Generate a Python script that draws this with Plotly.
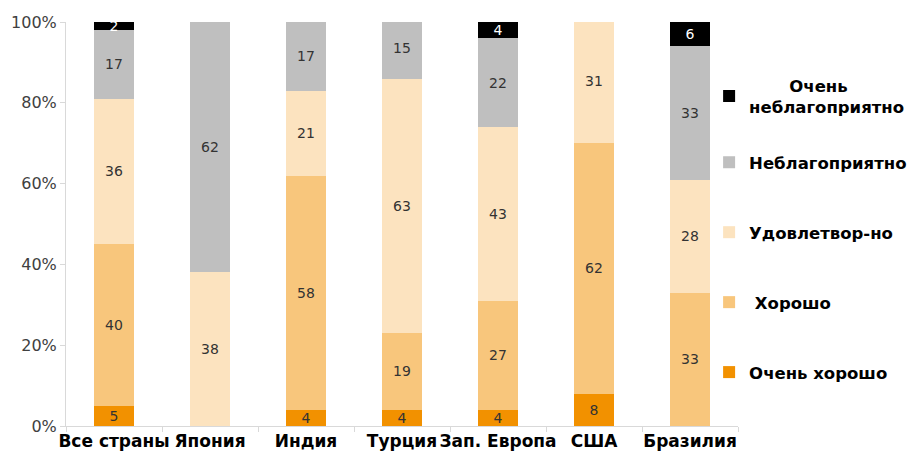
import plotly.graph_objects as go

categories = ["Все страны", "Япония", "Индия", "Турция", "Зап. Европа", "США", "Бразилия"]
very_good = [5, None, 4, 4, 4, 8, None]
good = [40, None, 58, 19, 27, 62, 33]
satisfactory = [36, 38, 21, 63, 43, 31, 28]
unfavorable = [17, 62, 17, 15, 22, None, 33]
very_unfavorable = [2, None, None, None, 4, None, 6]

series = [
    ("Очень хорошо", very_good, "#F29100", "#333333", "legend"),
    ("\u00a0Хорошо", good, "#F8C67C", "#333333", "legend"),
    ("Удовлетвор-но", satisfactory, "#FCE3BF", "#333333", "legend"),
    ("Неблагоприятно", unfavorable, "#BFBFBF", "#333333", "legend"),
    ("\u00a0" * 7 + "Очень<br>неблагоприятно", very_unfavorable, "#000000", "#FFFFFF", "legend2"),
]

FONT = "DejaVu Sans"
fig = go.Figure()
for i, (name, vals, color, tcolor, leg) in enumerate(series):
    label = "<b>" + name.replace("<br>", "</b><br><b>") + "</b>"
    fig.add_trace(go.Bar(
        x=categories, y=vals, name=label,
        marker=dict(color=color, line=dict(width=0)),
        text=[("" if v is None else str(v)) for v in vals],
        textposition="inside", insidetextanchor="middle", textangle=0,
        textfont=dict(size=14, color=tcolor, family=FONT),
        legendgroup=f"g{i}", legendrank=1000 - i, legend=leg,
    ))

legend_common = dict(
    traceorder="grouped", tracegroupgap=45.5, xanchor="left", yanchor="top",
    font=dict(size=16.5, color="#000000", family=FONT),
    bgcolor="rgba(0,0,0,0)", itemwidth=30,
)

fig.update_layout(
    barmode="stack",
    bargap=0.59,
    width=917, height=455,
    margin=dict(l=58, r=187, t=14, b=37, autoexpand=False),
    plot_bgcolor="white", paper_bgcolor="white",
    font=dict(family=FONT, color="#333333"),
    uniformtext=dict(minsize=14, mode="show"),
    showlegend=True,
    legend=dict(x=0.957, y=0.6955, **legend_common),
    legend2=dict(x=0.957, y=0.886, **legend_common),
    xaxis=dict(
        tickfont=dict(size=17, color="#000000", family=FONT),
        tickangle=0, automargin=False,
        tickprefix="<b>", ticksuffix="</b>",
        showline=True, linecolor="#D9D9D9", linewidth=1,
        ticks="outside", tickson="boundaries", ticklen=5, tickcolor="#D9D9D9",
        showgrid=False,
    ),
    yaxis=dict(
        range=[0, 100], tickvals=[0, 20, 40, 60, 80, 100],
        ticktext=["0%", "20%", "40%", "60%", "80%", "100%"],
        tickfont=dict(size=16, color="#404040", family=FONT), automargin=False,
        showline=True, linecolor="#D9D9D9", linewidth=1,
        ticks="outside", ticklen=5, tickcolor="#D9D9D9",
        showgrid=False, zeroline=False,
    ),
)

fig.write_html("out.html")
